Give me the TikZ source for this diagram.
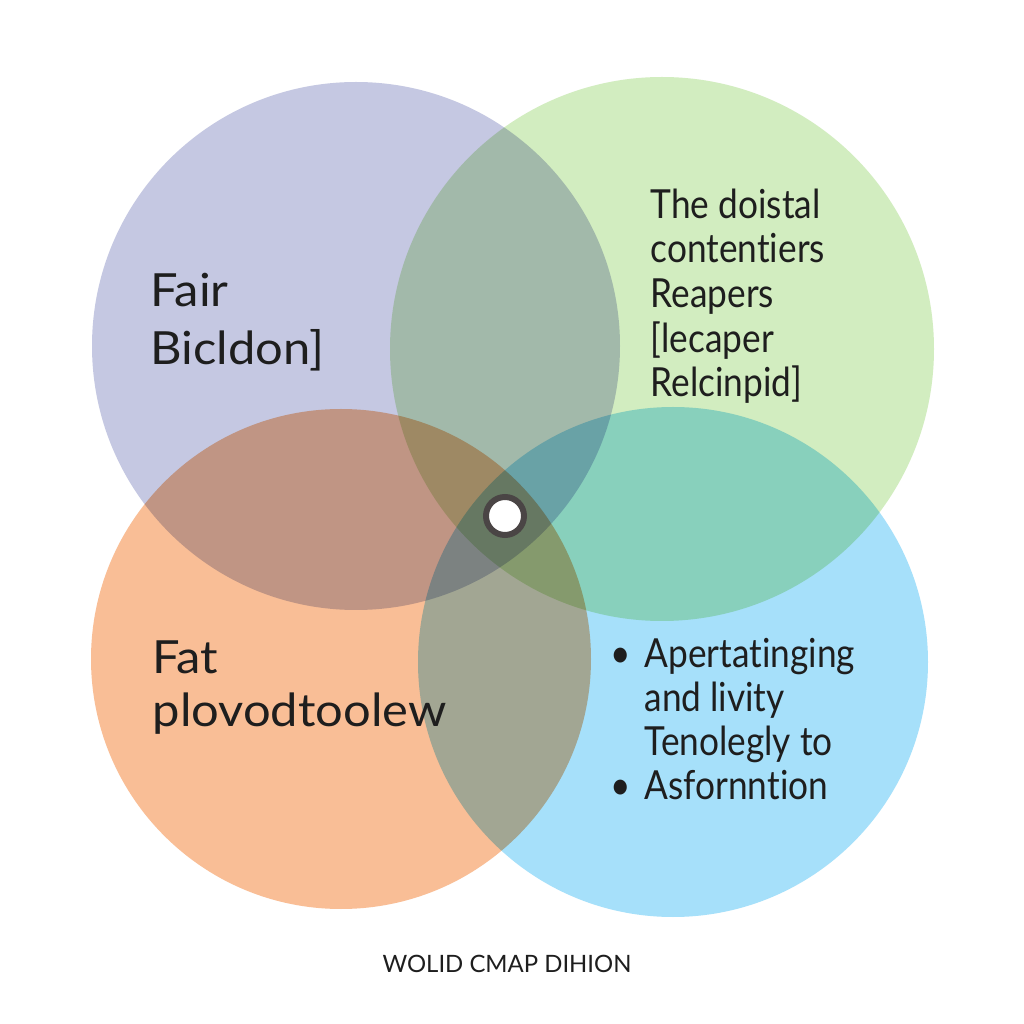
\documentclass[tikz,border=0pt]{standalone}
\usepackage{fontspec}
\setmainfont{Lato}[Ligatures=NoCommon]
\setsansfont{Lato}[Ligatures=NoCommon]
\newfontfamily\narrowsans{Lato}[Ligatures=NoCommon, FakeStretch=0.88]
\newfontfamily\widesans{Lato}[Ligatures=NoCommon, FakeStretch=1.07]
\definecolor{lavender}{HTML}{C5C8E2}
\definecolor{mint}{HTML}{D2EDC0}
\definecolor{peach}{HTML}{F9BE96}
\definecolor{sky}{HTML}{A6E0FA}
\definecolor{ink}{HTML}{1E1E1E}
\definecolor{ring}{HTML}{4A4545}
\begin{document}
\begin{tikzpicture}[font=\sffamily,
  disc/.style={circle, inner sep=0pt},
  txt/.style={anchor=north west, inner sep=0pt, align=left, text=ink}]
  \useasboundingbox[fill=white] (0,0) rectangle (10.24,10.24);
  % Circles
  \begin{scope}[blend group=multiply]
    \node[disc, fill=lavender, minimum size=5.28cm] (purple) at (3.56,6.78) {};
    \node[disc, fill=mint, minimum size=5.44cm] (green) at (6.62,6.75) {};
    \node[disc, fill=peach, minimum size=5.00cm] (orange) at (3.41,3.65) {};
    \node[disc, fill=sky, minimum size=5.10cm] (blue) at (6.73,3.62) {};
  \end{scope}
  % Centre dot
  \node[disc, draw=ring, line width=0.06cm, fill=white, minimum size=0.38cm] (hub) at (5.05,5.08) {};
  % Labels
  \node[txt, font=\widesans\fontsize{13}{16.5}\selectfont] (tl) at (1.50,7.52) {Fair\\Bicldon]};
  \node[txt, font=\narrowsans\fontsize{11.4}{12.7}\selectfont] (tr) at (6.50,8.36) {The doistal\\contentiers\\Reapers\\{}[lecaper\\Relcinpid]};
  \node[txt, font=\widesans\fontsize{13}{15}\selectfont] (bl) at (1.52,3.84) {Fat\\plovodtoolew};
  \node[txt, font=\narrowsans\fontsize{11.4}{12.5}\selectfont] (br) at (6.10,3.86) {\textbullet\,\,Apertatinging\\\phantom{\textbullet\,\,}and livity\\\phantom{\textbullet\,\,}Tenolegly to\\\textbullet\,\,Asfornntion};
  \node[font=\sffamily\fontsize{6.8}{8}\selectfont, text=ink] (title) at (5.07,0.60) {WOLID CMAP DIHION};
\end{tikzpicture}
\end{document}
